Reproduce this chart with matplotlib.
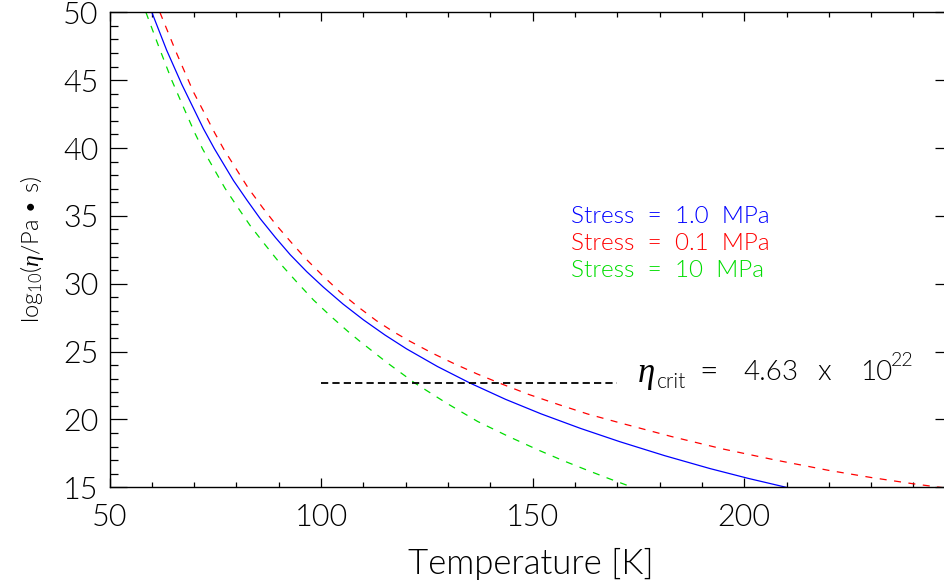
import numpy as np
import matplotlib.pyplot as plt
from matplotlib.ticker import MultipleLocator

plt.rcParams['font.family'] = ['Lato', 'DejaVu Sans']
plt.rcParams['font.weight'] = 300
plt.rcParams['axes.labelweight'] = 300
plt.rcParams['mathtext.fontset'] = 'custom'
plt.rcParams['mathtext.rm'] = 'Lato:weight=300'
plt.rcParams['mathtext.it'] = 'Liberation Serif:italic'

# viscosity curves: temperature [K] vs log10(eta / Pa s)
temp_1mpa = [60.0, 63.5, 67.1, 72.2, 74.8, 79.3, 82.5, 85.6, 89.2, 92.7, 96.6,
             100.5, 105.2, 110.0, 115.1, 120.2, 127.5, 135.2, 143.6, 152.0, 161.3,
             170.6, 181.2, 191.9, 200.9, 209.9, 212.0]
logeta_1mpa = [50.0, 47.21, 44.68, 41.42, 39.94, 37.60, 36.15, 34.80, 33.41, 32.14, 30.89,
               29.76, 28.50, 27.34, 26.22, 25.20, 23.90, 22.68, 21.48, 20.41, 19.34,
               18.36, 17.33, 16.38, 15.66, 15.0, 14.86]

temp_01mpa = [61.9, 65.9, 69.8, 74.9, 77.1, 82.8, 86.2, 89.5, 93.1, 96.6, 100.6,
              104.5, 108.8, 113.1, 117.0, 121.0, 126.2, 131.5, 136.9, 142.3, 149.0,
              156.0, 163.0, 170.6, 182.8, 195.0, 207.5, 219.9, 230.0, 239.9, 246.2, 249.0]
logeta_01mpa = [50.0, 46.95, 44.15, 41.09, 39.86, 37.04, 35.60, 34.29, 32.99, 31.77, 30.53,
                29.38, 28.28, 27.27, 26.48, 25.76, 24.90, 24.10, 23.35, 22.66, 21.85,
                21.11, 20.40, 19.75, 18.74, 17.82, 17.00, 16.25, 15.72, 15.26, 15.0, 14.9]

temp_10mpa = [58.6, 61.7, 64.7, 67.5, 70.2, 72.0, 74.7, 77.3, 80.3, 83.2, 86.8,
              90.3, 94.3, 98.2, 102.3, 106.4, 109.0, 115.6, 122.2, 129.6, 137.0,
              144.2, 151.3, 157.0, 162.8, 168.2, 173.6, 176.0]
logeta_10mpa = [50.0, 47.42, 45.0, 42.99, 41.08, 39.93, 38.45, 37.03, 35.63, 34.30, 32.86,
                31.50, 30.11, 28.80, 27.60, 26.47, 25.80, 24.18, 22.67, 21.21, 19.85,
                18.76, 17.75, 16.99, 16.27, 15.62, 15.0, 14.72]

eta_crit = 4.63e22
crit_temp = [100, 170]

labels = ['Stress  =  1.0  MPa', 'Stress  =  0.1  MPa', 'Stress  =  10  MPa']
colors = ['blue', 'red', '#00dd00']

fig = plt.figure(figsize=(9.45, 5.84), dpi=100)
ax = fig.add_axes([0.1159, 0.1656, 0.8915, 0.8133])

ax.plot(temp_1mpa, logeta_1mpa, color=colors[0], lw=0.9)
ax.plot(temp_01mpa, logeta_01mpa, color=colors[1], lw=0.9, ls=(0, (5.6, 6)))
ax.plot(temp_10mpa, logeta_10mpa, color=colors[2], lw=0.9, ls=(0, (5.6, 6)))
ax.plot(crit_temp, [np.log10(eta_crit)] * 2, color='black', lw=1.3, ls=(0, (4, 2.3)))

for i, (lab, c) in enumerate(zip(labels, colors)):
    ax.text(159.0, 34.94 - 1.965 * i, lab, color=c, fontsize=17.5, va='center', ha='left')

# eta_crit annotation, built from pieces like the IDL string
ax.text(174.9, 23.35, 'η', family='Liberation Serif', style='italic', fontsize=25,
        va='center', ha='left')
ax.text(179.4, 22.28, 'crit', fontsize=15, va='baseline', ha='left')
ax.text(189.3, 23.46, '=', fontsize=23, va='center', ha='left')
ax.text(199.7, 23.46, '4.63', fontsize=20, va='center', ha='left')
ax.text(217.2, 23.46, 'x', fontsize=21, va='center', ha='left')
ax.text(227.4, 23.46, '10', fontsize=20, va='center', ha='left')
ax.text(234.6, 24.35, '22', fontsize=14, va='center', ha='left')

ax.set_xlim(50, 249.1)
ax.set_ylim(15, 50)
ax.xaxis.set_major_locator(MultipleLocator(50))
ax.xaxis.set_minor_locator(MultipleLocator(10))
ax.yaxis.set_major_locator(MultipleLocator(5))
ax.yaxis.set_minor_locator(MultipleLocator(1))

ax.tick_params(which='both', direction='in', top=True, right=True, labelsize=22, width=0.9)
ax.xaxis.set_tick_params(which='major', length=6.5, pad=11)
ax.xaxis.set_tick_params(which='minor', length=3.3)
ax.yaxis.set_tick_params(which='major', length=12.2, pad=8)
ax.yaxis.set_tick_params(which='minor', length=6)
for s in ax.spines.values():
    s.set_linewidth(1.0)

ax.set_xlabel('Temperature [K]', fontsize=25, labelpad=12)
ax.set_ylabel(r'log$_{10}$($\eta$/Pa • s)', fontsize=17, labelpad=12)

fig.savefig('out.png', dpi=100)
